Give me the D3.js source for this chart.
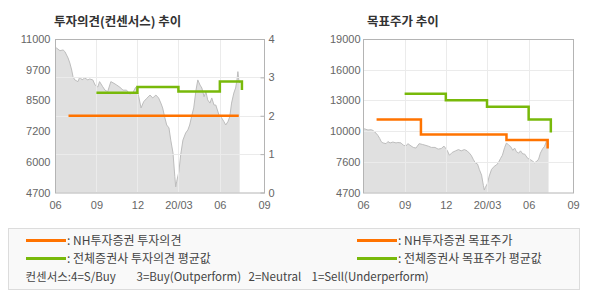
<!DOCTYPE html>
<html>
<head>
<meta charset="utf-8">
<script src="https://cdn.jsdelivr.net/npm/d3@7"></script>
<style>
body { margin: 0; background: #fff; }
text { font-family: "Liberation Sans", Arial, sans-serif; }
.kr { font-family: "Noto Sans CJK KR", "Noto Sans", sans-serif; }
</style>
</head>
<body>
<div id="chart"></div>
<script>
// x axis
var tickDates = ["2019-06-01", "2019-09-01", "2019-12-01", "2020-03-01", "2020-06-01", "2020-09-07"]
var tickLabels = ["06", "09", "12", "20/03", "06", "09"]

// stock price (same series on both charts)
var priceDates = ["2019-06-01", "2019-06-05", "2019-06-12", "2019-06-19", "2019-06-23", "2019-06-30", "2019-07-04", "2019-07-08",
    "2019-07-11", "2019-07-15", "2019-07-22", "2019-07-26", "2019-07-31", "2019-08-06", "2019-08-13", "2019-08-17",
    "2019-08-24", "2019-08-29", "2019-09-04", "2019-09-08", "2019-09-15", "2019-09-20", "2019-09-26", "2019-10-03",
    "2019-10-10", "2019-10-16", "2019-10-23", "2019-10-30", "2019-11-07", "2019-11-14", "2019-11-21", "2019-11-27",
    "2019-12-04", "2019-12-09", "2019-12-15", "2019-12-22", "2019-12-29", "2020-01-04", "2020-01-11", "2020-01-17",
    "2020-01-22", "2020-01-26", "2020-01-31", "2020-02-04", "2020-02-09", "2020-02-13", "2020-02-18", "2020-02-22",
    "2020-02-24", "2020-02-26", "2020-03-02", "2020-03-06", "2020-03-11", "2020-03-17", "2020-03-22", "2020-03-26",
    "2020-03-31", "2020-04-04", "2020-04-09", "2020-04-13", "2020-04-18", "2020-04-22", "2020-04-27", "2020-05-01",
    "2020-05-05", "2020-05-10", "2020-05-14", "2020-05-19", "2020-05-23", "2020-05-30", "2020-06-05", "2020-06-10",
    "2020-06-14", "2020-06-19", "2020-06-23", "2020-06-27", "2020-07-02", "2020-07-06", "2020-07-09", "2020-07-11",
    "2020-07-13", "2020-07-15"]
var priceValues = [10670, 10620, 10520, 10550, 10480, 10220, 10010, 9730,
    9450, 9320, 9250, 9440, 9320, 9400, 9320, 9360,
    9320, 9110, 9030, 9250, 9040, 8900, 8840, 9250,
    9180, 9110, 9020, 8900, 8900, 8740, 8800, 9020,
    8630, 8170, 8430, 8570, 8700, 8580, 8700, 8580,
    8370, 8170, 7760, 7470, 7350, 6850, 6320, 5350,
    4930, 5140, 5550, 6240, 6850, 7140, 7270, 7470,
    7880, 8170, 8900, 9320, 9110, 8990, 8630, 8840,
    8500, 8370, 8580, 8290, 8290, 7880, 7760, 7610,
    7470, 7610, 7810, 8370, 8780, 8990, 9320, 9660,
    9320, 9190]

// investment opinion (0-4)
var nhOpinionDates = ["2019-07-01", "2020-07-13"]
var nhOpinionValues = [2, 2]
var avgOpinionDates = ["2019-09-01", "2019-12-01", "2020-03-01", "2020-06-01", "2020-07-20"]
var avgOpinionValues = [2.6, 2.75, 2.63, 2.89, 2.67]
var opinionTicks = [0, 1, 2, 3, 4]

// target price
var nhTargetDates = ["2019-07-01", "2019-10-07", "2020-04-13", "2020-07-13"]
var nhTargetValues = [11500, 10100, 9600, 8800]
var avgTargetDates = ["2019-09-01", "2019-12-01", "2020-03-01", "2020-06-01", "2020-07-20"]
var avgTargetValues = [13900, 13300, 12700, 11500, 10300]

var orange = "#ff7300"
var green = "#78b90a"
var parse = d3.timeParse("%Y-%m-%d")

var svg = d3.select("#chart").append("svg")
    .attr("width", 590)
    .attr("height", 300)

function zip(dates, values) {
    return dates.map((d, i) => ({ date: parse(d), value: values[i] }))
}

function drawChart(opt) {
    var g = svg.append("g")
    var x = d3.scaleTime()
        .domain([parse(tickDates[0]), parse(tickDates[tickDates.length - 1])])
        .range([opt.left, opt.right])
    var y = d3.scaleLinear().domain(opt.priceDomain).range([opt.bottom, opt.top])

    // price area
    var price = zip(priceDates, priceValues)
    g.append("path")
        .datum(price)
        .attr("fill", "#e0e0e0")
        .attr("d", d3.area().x(d => x(d.date)).y0(opt.bottom).y1(d => y(d.value)))
    g.append("path")
        .datum(price)
        .attr("fill", "none")
        .attr("stroke", "#bdbdbd")
        .attr("stroke-width", 1)
        .attr("d", d3.line().x(d => x(d.date)).y(d => y(d.value)))

    // grid
    var xGrid = tickDates.slice(1, -1).map(parse)
    g.append("g").selectAll("line").data(xGrid).enter().append("line")
        .attr("x1", d => Math.round(x(d)) + 0.5).attr("x2", d => Math.round(x(d)) + 0.5)
        .attr("y1", opt.top).attr("y2", opt.bottom)
        .attr("stroke", "#ebebeb")
    g.append("g").selectAll("line").data(opt.gridValues).enter().append("line")
        .attr("x1", opt.left).attr("x2", opt.right)
        .attr("y1", d => Math.round(opt.gridScale(d)) + 0.5).attr("y2", d => Math.round(opt.gridScale(d)) + 0.5)
        .attr("stroke", "#ebebeb")

    // frame
    g.append("rect")
        .attr("x", opt.left + 0.5).attr("y", opt.top + 0.5)
        .attr("width", opt.right - opt.left).attr("height", opt.bottom - opt.top)
        .attr("fill", "none").attr("stroke", "#b4b4b4")

    // step lines
    opt.lines.forEach(l => {
        g.append("path")
            .datum(zip(l.dates, l.values))
            .attr("fill", "none")
            .attr("stroke", l.color)
            .attr("stroke-width", 2.5)
            .attr("d", d3.line().curve(d3.curveStepAfter).x(d => x(d.date)).y(d => l.scale(d.value)))
    })

    // left axis
    var step = (opt.priceDomain[1] - opt.priceDomain[0]) / 5
    var yTicks = d3.range(6).map(i => opt.priceDomain[0] + i * step)
    var yAxis = g.append("g")
        .attr("transform", "translate(" + (opt.left + 0.5) + ",0)")
        .call(d3.axisLeft(y).tickValues(yTicks).tickSize(0).tickPadding(opt.labelPad).tickFormat(d3.format(".2r")))
    yAxis.select(".domain").remove()
    yAxis.selectAll("text").attr("fill", "#666").style("font-size", "11px").style("font-family", "Liberation Sans, Arial")

    // x axis
    var xAxis = g.append("g")
        .attr("transform", "translate(0," + opt.bottom + ")")
        .call(d3.axisBottom(x).tickValues(tickDates.map(parse)).tickSize(0).tickPadding(9)
            .tickFormat((d, i) => tickLabels[i]))
    xAxis.select(".domain").remove()
    xAxis.selectAll("text").attr("fill", "#666").style("font-size", "11px").style("font-family", "Liberation Sans, Arial")

    // title
    g.append("text")
        .attr("class", "kr")
        .attr("x", opt.titleX).attr("y", 26)
        .attr("fill", "#333")
        .style("font-size", "12.5px").style("font-weight", "bold")
        .text(opt.title)
    return g
}

var yOpinion = d3.scaleLinear().domain([0, 4]).range([192.5, 39])
var left = drawChart({
    left: 55, right: 264, top: 39, bottom: 192.5,
    priceDomain: [4700, 11000], labelPad: 5,
    gridScale: yOpinion, gridValues: [1, 2, 3],
    title: "투자의견(컨센서스) 추이", titleX: 54,
    lines: [
        { dates: nhOpinionDates, values: nhOpinionValues, color: orange, scale: yOpinion },
        { dates: avgOpinionDates, values: avgOpinionValues, color: green, scale: yOpinion }
    ]
})
var rAxis = left.append("g")
    .attr("transform", "translate(264.5,0)")
    .call(d3.axisRight(yOpinion).tickValues(opinionTicks).tickSizeInner(-4).tickSizeOuter(0).tickPadding(4)
        .tickFormat(d3.format("d")))
rAxis.select(".domain").remove()
rAxis.selectAll("line").attr("stroke", "#b4b4b4")
rAxis.selectAll("text").attr("fill", "#666").style("font-size", "11px").style("font-family", "Liberation Sans, Arial")

var yTarget = d3.scaleLinear().domain([4700, 19000]).range([192.5, 39])
drawChart({
    left: 363, right: 573, top: 39, bottom: 192.5,
    priceDomain: [4700, 19000], labelPad: 3,
    gridScale: yTarget, gridValues: d3.range(1, 5).map(i => 4700 + i * 2860),
    title: "목표주가 추이", titleX: 367,
    lines: [
        { dates: nhTargetDates, values: nhTargetValues, color: orange, scale: yTarget },
        { dates: avgTargetDates, values: avgTargetValues, color: green, scale: yTarget }
    ]
})

// legend
var legend = svg.append("g")
legend.append("rect")
    .attr("x", 8.5).attr("y", 228.5).attr("width", 571).attr("height", 61)
    .attr("fill", "#f9f9f9").attr("stroke", "#dcdcdc")
var items = [
    { x: 26, y: 240.5, color: orange, label: ": NH투자증권 투자의견" },
    { x: 26, y: 258.5, color: green, label: ": 전체증권사 투자의견 평균값" },
    { x: 357, y: 240.5, color: orange, label: ": NH투자증권 목표주가" },
    { x: 357, y: 258.5, color: green, label: ": 전체증권사 목표주가 평균값" }
]
items.forEach(it => {
    legend.append("line")
        .attr("x1", it.x).attr("x2", it.x + 40)
        .attr("y1", it.y).attr("y2", it.y)
        .attr("stroke", it.color).attr("stroke-width", 3)
    legend.append("text")
        .attr("class", "kr")
        .attr("x", it.x + 41).attr("y", it.y).attr("dy", "0.36em")
        .attr("fill", "#444").style("font-size", "12px")
        .text(it.label)
})
var notes = [
    { x: 25.5, text: "컨센서스:4=S/Buy" },
    { x: 136.5, text: "3=Buy(Outperform)" },
    { x: 248.5, text: "2=Neutral" },
    { x: 311.5, text: "1=Sell(Underperform)" }
]
legend.selectAll(".note").data(notes).enter().append("text")
    .attr("class", "kr note")
    .attr("x", d => d.x).attr("y", 276.5).attr("dy", "0.36em")
    .attr("fill", "#444").style("font-size", "11.5px")
    .text(d => d.text)
</script>
</body>
</html>
